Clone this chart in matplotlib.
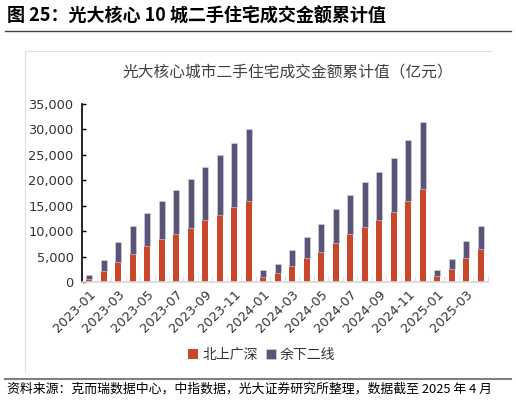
import matplotlib

matplotlib.use("Agg")
import matplotlib.pyplot as plt
import numpy as np
from matplotlib.lines import Line2D
from matplotlib.ticker import FuncFormatter, MultipleLocator

plt.rcParams["font.family"] = ["Noto Sans CJK SC", "DejaVu Sans"]

# monthly cumulative values, 2023-01 .. 2025-04 (亿元)
months = [f"{y}-{m:02d}" for y in (2023, 2024) for m in range(1, 13)] + [
    "2025-01", "2025-02", "2025-03", "2025-04"]
tier1 = [530, 2100, 4000, 5580, 7090, 8400, 9520, 10640, 12150, 13200, 14710, 16020,
         990, 1710, 3150, 4730, 5980, 7750, 9520, 10840, 12150, 13860, 15830, 18260,
         1250, 2500, 4730, 6440]
total = [1450, 4270, 7950, 11030, 13660, 16020, 18060, 20160, 22590, 24950, 27380, 30010,
         2300, 3480, 6240, 8870, 11490, 14320, 17140, 19570, 21540, 24300, 27840, 31520,
         2300, 4470, 8010, 11030]
others = [t - a for t, a in zip(total, tier1)]

RED = "#C8462A"
PURPLE = "#5A5478"

fig = plt.figure(figsize=(5.16, 4.0), dpi=100)

# header / footer
fig.text(7 / 516, 1 - 16 / 400, "图 25：光大核心 10 城二手住宅成交金额累计值",
         fontsize=13, fontweight="bold", va="center", ha="left", color="black")
fig.add_artist(Line2D([5 / 516, 511 / 516], [1 - 31 / 400] * 2, color="#404040", lw=1.0))
fig.add_artist(Line2D([5 / 516, 511 / 516], [1 - 379 / 400] * 2, color="#808080", lw=1.5))
fig.text(7 / 516, 1 - 389 / 400,
         "资料来源：克而瑞数据中心，中指数据，光大证券研究所整理，数据截至 2025 年 4 月",
         fontsize=9.3, va="center", ha="left", color="black")

# chart frame (only top and left edges visible)
fig.add_artist(Line2D([25 / 516, 25 / 516], [1 - 51 / 400, 1 - 372 / 400], color="#E0E0E0", lw=0.8))
fig.add_artist(Line2D([25 / 516, 491 / 516], [1 - 51 / 400] * 2, color="#E0E0E0", lw=0.8))

fig.text(288 / 516, 1 - 72 / 400, "光大核心城市二手住宅成交金额累计值（亿元）",
         fontsize=11.3, va="center", ha="center", color="#404040")

ax = fig.add_axes([82 / 516, 1 - 282 / 400, (488 - 82) / 516, (282 - 104) / 400])
x = np.arange(len(months))
ax.bar(x, tier1, width=0.38, color=RED, label="北上广深")
ax.bar(x, others, width=0.38, bottom=tier1, color=PURPLE, label="余下二线",
       edgecolor="#D8D6E4", linewidth=0.4)

ax.set_xlim(-0.5, len(months) - 0.5)
ax.set_ylim(0, 35000)
ax.yaxis.set_major_locator(MultipleLocator(5000))
ax.yaxis.set_major_formatter(FuncFormatter(lambda v, _: f"{int(v):,}"))

ax.set_xticks(x[::2])
ax.set_xticklabels(months[::2], rotation=45, ha="right", rotation_mode="anchor",
                   fontsize=9.3, family="DejaVu Sans", color="#333333")
ax.set_xticks(np.arange(len(months) + 1) - 0.5, minor=True)
ax.tick_params(axis="x", which="major", length=0, pad=4)
ax.tick_params(axis="x", which="minor", direction="in", length=4, color="#D9D9D9")
ax.tick_params(axis="y", direction="in", length=3, width=1, color="black",
               labelsize=9.3, labelcolor="#333333", pad=6)
for lab in ax.get_yticklabels():
    lab.set_family("DejaVu Sans")

for side in ("top", "right"):
    ax.spines[side].set_visible(False)
ax.spines["left"].set_color("black")
ax.spines["left"].set_linewidth(1.2)
ax.spines["bottom"].set_color("#D9D9D9")
ax.spines["bottom"].set_linewidth(1.2)

fig.legend(loc="center", bbox_to_anchor=(262 / 516, 1 - 355 / 400), ncol=2, frameon=False,
           fontsize=10, handlelength=0.7, handleheight=0.7, handletextpad=0.3,
           columnspacing=0.6, labelcolor="#333333")

fig.savefig("out.png", dpi=100)
